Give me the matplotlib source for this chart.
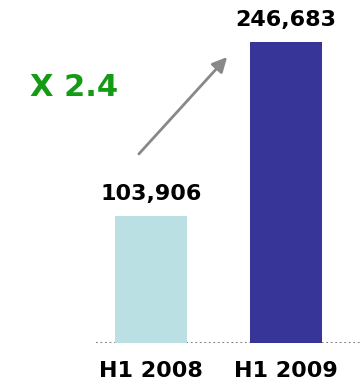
import numpy as np
import matplotlib.pyplot as plt

# half-year totals
periods = ['H1 2008', 'H1 2009']
totals = [103906, 246683]
bar_colors = ['#bbe0e3', '#383598']
growth_label = 'X 2.4'

fig = plt.figure(figsize=(3.6, 3.85), dpi=100)
ax = fig.add_axes([96/360, 42/385, 264/360, 343/385])

x = np.arange(len(periods))
ax.bar(x, totals, width=0.533, color=bar_colors, zorder=2)
ax.axhline(0, color='#707070', ls=(0, (1, 1.5)), lw=1.3, zorder=1)

for xi, v in zip(x, totals):
    ax.text(xi, v + 0.04*max(totals), f'{v:,}', ha='center', va='bottom',
            fontsize=16, fontweight='bold', color='black')

ax.set_xlim(-0.407, 1.548)
ax.set_ylim(0, max(totals)*343/301)
ax.set_xticks(x)
ax.set_xticklabels(periods, fontsize=16, fontweight='bold')
ax.tick_params(axis='x', length=0, pad=13)
ax.set_yticks([])
for s in ax.spines.values():
    s.set_visible(False)

fig.text(30/360, 1 - 88/385, growth_label, fontsize=22, fontweight='bold',
         color='#159a15', ha='left', va='center')
ax.annotate('', xy=(229, 330), xytext=(137, 229), xycoords='figure pixels',
            textcoords='figure pixels',
            arrowprops=dict(arrowstyle='-|>', color='#888888', lw=2,
                            mutation_scale=22))

fig.savefig('out.png', dpi=100)
